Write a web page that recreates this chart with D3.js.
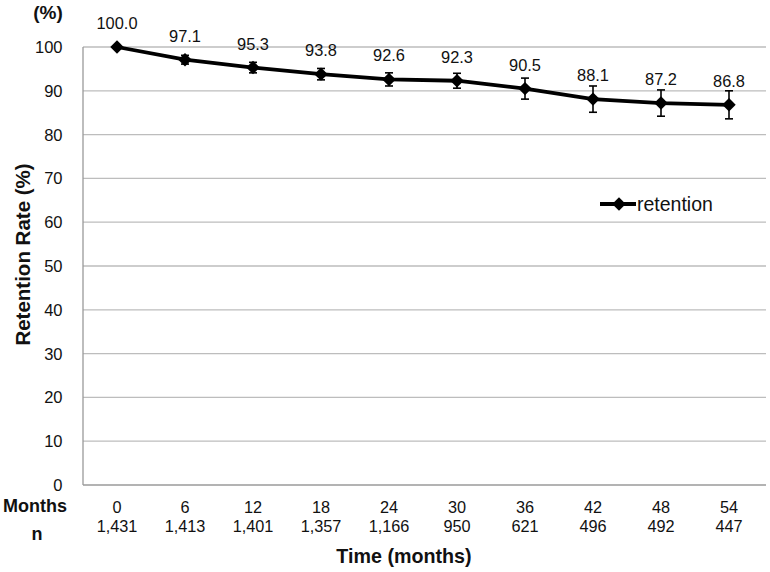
<!DOCTYPE html>
<html><head><meta charset="utf-8">
<script src="https://cdn.jsdelivr.net/npm/d3@7"></script>
<style>body{margin:0;background:#fff;}svg{display:block;font-family:"Liberation Sans",Arial,sans-serif;}</style>
</head><body><svg id="c" width="770" height="572"></svg>
<script>
const months = ["0","6","12","18","24","30","36","42","48","54"];
const nCounts = ["1,431","1,413","1,401","1,357","1,166","950","621","496","492","447"];
const retention = [100.0,97.1,95.3,93.8,92.6,92.3,90.5,88.1,87.2,86.8];
const errors = [0,1.0,1.2,1.3,1.5,1.7,2.4,3.0,3.0,3.2];
const yTicks = [0,10,20,30,40,50,60,70,80,90,100];

(function(){
const svg = d3.select("#c");
const pLeft = 83, pRight = 766, pTop = 47, pBottom = 485;
const x = d3.scaleBand().domain(months).range([pLeft, pLeft + 68*10]);
const y = d3.scaleLinear().domain([0,100]).range([pBottom, pTop]);
const cx = d => x(d) + x.bandwidth()/2;
const ink = "#111";

// gridlines
svg.append("g").selectAll("line").data(yTicks.filter(t=>t>0)).join("line")
  .attr("x1", pLeft).attr("x2", pRight).attr("y1", d=>y(d)).attr("y2", d=>y(d))
  .attr("stroke", "#bdbdbd").attr("stroke-width", 1.3);
// axes lines
svg.append("line").attr("x1", pLeft).attr("x2", pLeft).attr("y1", pTop).attr("y2", pBottom).attr("stroke","#9a9a9a").attr("stroke-width",1.3);
svg.append("line").attr("x1", pLeft).attr("x2", pRight).attr("y1", pBottom).attr("y2", pBottom).attr("stroke","#9a9a9a").attr("stroke-width",1.3);

// y tick labels
svg.append("g").selectAll("text").data(yTicks).join("text")
  .attr("x", 62.5).attr("y", d=>y(d)+6).attr("text-anchor","end")
  .attr("font-size", 16.5).attr("fill",ink).text(d=>d);
svg.append("text").attr("x", 48).attr("y", 19).attr("text-anchor","middle")
  .attr("font-size", 19).attr("font-weight","bold").attr("fill",ink).text("(%)");
svg.append("text").attr("transform","translate(30,254.5) rotate(-90)").attr("text-anchor","middle")
  .attr("font-size", 20.5).attr("font-weight","bold").attr("fill",ink).text("Retention Rate (%)");

// x labels
svg.append("g").selectAll("text").data(months).join("text")
  .attr("x", d=>cx(d)).attr("y", 513).attr("text-anchor","middle")
  .attr("font-size", 16.3).attr("fill",ink).text(d=>d);
svg.append("g").selectAll("text").data(nCounts).join("text")
  .attr("x", (d,i)=>cx(months[i])).attr("y", 532).attr("text-anchor","middle")
  .attr("font-size", 16.3).attr("fill",ink).text(d=>d);
svg.append("text").attr("x", 35).attr("y", 512).attr("text-anchor","middle")
  .attr("font-size", 18).attr("font-weight","bold").attr("fill",ink).text("Months");
svg.append("text").attr("x", 37).attr("y", 540).attr("text-anchor","middle")
  .attr("font-size", 18).attr("font-weight","bold").attr("fill",ink).text("n");
svg.append("text").attr("x", 404).attr("y", 563).attr("text-anchor","middle")
  .attr("font-size", 19.7).attr("font-weight","bold").attr("fill",ink).text("Time (months)");

// error bars
const eb = svg.append("g").attr("stroke","#000").attr("stroke-width",1.6);
retention.forEach((v,i)=>{
  if(!errors[i]) return;
  const xc = cx(months[i]);
  eb.append("line").attr("x1",xc).attr("x2",xc).attr("y1",y(v+errors[i])).attr("y2",y(v-errors[i]));
  eb.append("line").attr("x1",xc-4).attr("x2",xc+4).attr("y1",y(v+errors[i])).attr("y2",y(v+errors[i]));
  eb.append("line").attr("x1",xc-4).attr("x2",xc+4).attr("y1",y(v-errors[i])).attr("y2",y(v-errors[i]));
});

// line
const line = d3.line().x((d,i)=>cx(months[i])).y(d=>y(d));
svg.append("path").datum(retention).attr("d", line).attr("fill","none")
  .attr("stroke","#000").attr("stroke-width",3.8).attr("stroke-linejoin","round");
const diamond = d3.symbol().type(d3.symbolDiamond2).size(115);
svg.append("g").selectAll("path").data(retention).join("path")
  .attr("d", diamond).attr("transform",(d,i)=>`translate(${cx(months[i])},${y(d)})`).attr("fill","#000");

// data labels
svg.append("g").selectAll("text").data(retention).join("text")
  .attr("x",(d,i)=>cx(months[i])).attr("y",d=>y(d) - 18)
  .attr("text-anchor","middle").attr("font-size",16.4).attr("fill",ink).text(d=>d.toFixed(1));

// legend
svg.append("line").attr("x1",600).attr("x2",636).attr("y1",204).attr("y2",204).attr("stroke","#000").attr("stroke-width",3.8);
svg.append("path").attr("d", diamond).attr("transform","translate(619,204)").attr("fill","#000");
svg.append("text").attr("x",637).attr("y",211).attr("font-size",19.5).attr("fill",ink).text("retention");
})();
</script></body></html>
